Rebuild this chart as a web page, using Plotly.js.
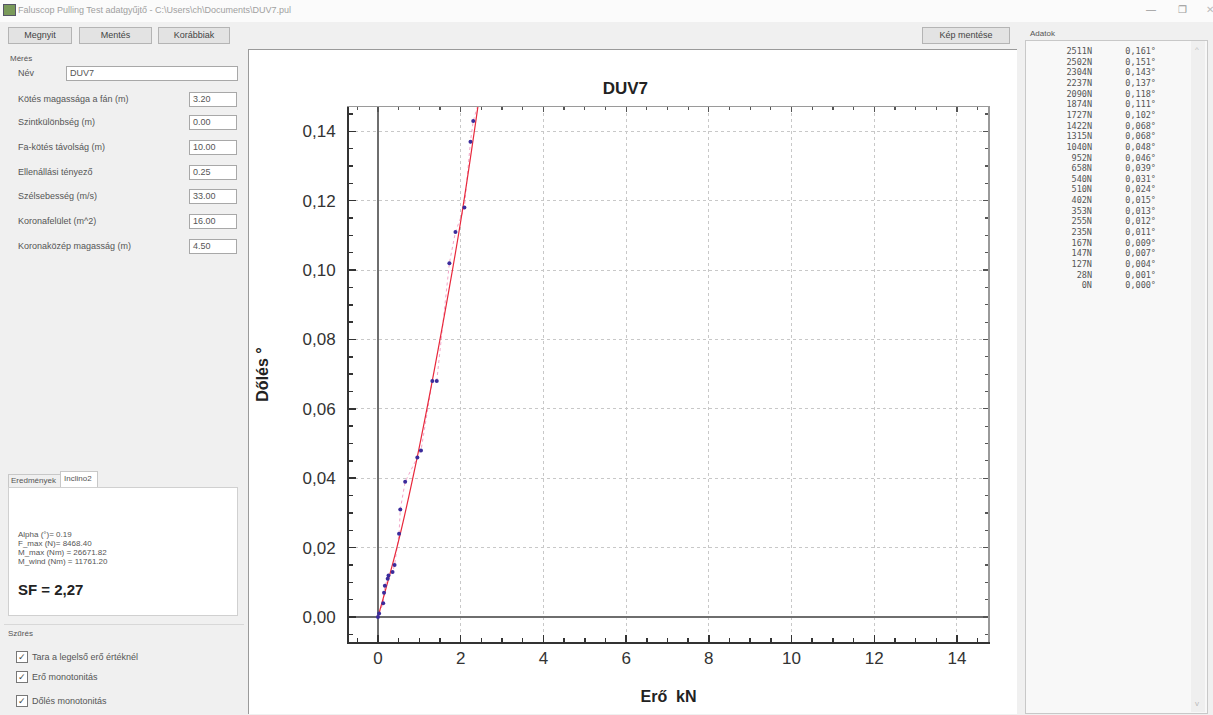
<!DOCTYPE html>
<html>
<head>
<meta charset="utf-8">
<script src="https://cdn.plot.ly/plotly-3.0.1.min.js"></script>
<style>
  html, body { margin:0; padding:0; width:1213px; height:715px; overflow:hidden; background:#f0f0f0; font-family:"Liberation Sans", Arial, sans-serif; }
  .abs { position:absolute; }
  .txt { position:absolute; font-size:9px; color:#555; white-space:nowrap; line-height:1; }
  .btn { position:absolute; background:#e3e3e3; border:1px solid #b4b4b4; font-size:9px; color:#444; text-align:center; line-height:15px; height:15px; }
  .inp { position:absolute; background:#fff; border:1px solid #a8a8a8; font-size:9px; color:#555; line-height:13px; height:13px; padding-left:3px; box-sizing:content-box; }
  .chk { position:absolute; width:10px; height:10px; border:1px solid #777; background:#fff; font-size:9px; line-height:10px; text-align:center; color:#444; }
  #list .row { position:absolute; font-family:"DejaVu Sans Mono", "Liberation Mono", monospace; font-size:8.5px; color:#555; line-height:1; }
</style>
</head>
<body>
<!-- title bar -->
<div class="abs" style="left:0;top:0;width:1213px;height:22px;background:#fbfbfb;"></div>
<div class="abs" style="left:3px;top:4px;width:11px;height:10px;background:#7a9a5a;border:1px solid #556;"></div>
<div class="txt" style="left:18px;top:6px;color:#a0a0a0;font-size:9px;">Faluscop Pulling Test adatgyűjtő - C:\Users\ch\Documents\DUV7.pul</div>
<div class="txt" style="left:1146px;top:5px;color:#999;font-size:10px;">—</div>
<div class="txt" style="left:1178px;top:5px;color:#999;font-size:10px;">❐</div>
<div class="txt" style="left:1206px;top:5px;color:#bbb;font-size:10px;">✕</div>

<!-- top buttons -->
<div class="btn" style="left:8px;top:27px;width:62px;">Megnyit</div>
<div class="btn" style="left:79px;top:27px;width:71px;">Mentés</div>
<div class="btn" style="left:158px;top:27px;width:70px;">Korábbiak</div>
<div class="btn" style="left:922px;top:27px;width:86px;">Kép mentése</div>

<!-- left panel: Mérés -->
<div class="txt" style="left:10px;top:55px;font-size:8px;">Mérés</div>
<div class="txt" style="left:18px;top:69px;">Név</div>
<div class="inp" style="left:66px;top:66px;width:167px;">DUV7</div>
<div id="params"></div>

<!-- tabs -->
<div class="abs" style="left:8px;top:474px;width:51px;height:12px;border:1px solid #c8c8c8;border-bottom:none;background:#f0f0f0;"></div>
<div class="txt" style="left:11px;top:477px;font-size:8px;">Eredmények</div>
<div class="abs" style="left:60px;top:471px;width:36px;height:16px;border:1px solid #c8c8c8;border-bottom:none;background:#fff;"></div>
<div class="txt" style="left:64px;top:475px;font-size:8px;">Inclino2</div>
<div class="abs" style="left:8px;top:487px;width:228px;height:127px;background:#fff;border:1px solid #d0d0d0;"></div>
<div class="txt" style="left:18px;top:530px;font-size:8px;line-height:9px;white-space:pre;">Alpha (°)= 0.19
F_max (N)= 8468.40
M_max (Nm) = 26671.82
M_wind (Nm) = 11761.20</div>
<div class="txt" style="left:18px;top:582px;font-size:15px;font-weight:bold;color:#222;">SF = 2,27</div>

<!-- Szűrés -->
<div class="abs" style="left:4px;top:624px;width:240px;height:1px;background:#d8d8d8;"></div>
<div class="txt" style="left:8px;top:630px;font-size:8px;">Szűrés</div>
<div class="chk" style="left:16px;top:651px;">✓</div>
<div class="txt" style="left:32px;top:653px;">Tara a legelső erő értéknél</div>
<div class="chk" style="left:16px;top:671px;">✓</div>
<div class="txt" style="left:32px;top:673px;">Erő monotonitás</div>
<div class="chk" style="left:16px;top:695px;">✓</div>
<div class="txt" style="left:32px;top:697px;">Dőlés monotonitás</div>

<!-- right panel -->
<div class="txt" style="left:1030px;top:30px;font-size:8px;">Adatok</div>
<div class="abs" style="left:1025px;top:40px;width:181px;height:672px;background:#f8f8f8;border:1px solid #c8c8c8;"></div>
<div class="abs" style="left:1191px;top:41px;width:14px;height:671px;background:#efefef;"></div>
<div class="txt" style="left:1195px;top:46px;color:#bbb;font-size:8px;">^</div>
<div class="txt" style="left:1195px;top:700px;color:#bbb;font-size:8px;">v</div>
<div id="list"></div>

<!-- chart panel -->
<div class="abs" style="left:248px;top:49px;width:768px;height:664px;background:#fff;border-left:1px solid #9a9a9a;border-top:1px solid #9a9a9a;"></div>
<div id="chart" class="abs" style="left:250px;top:50px;width:766px;height:663px;"></div>

<script>
// ---- data ----
var paramLabels = ["Kötés magassága a fán (m)", "Szintkülönbség (m)", "Fa-kötés távolság (m)", "Ellenállási tényező", "Szélsebesség (m/s)", "Koronafelület (m^2)", "Koronaközép magasság (m)"];
var paramValues = ["3.20", "0.00", "10.00", "0.25", "33.00", "16.00", "4.50"];

var forceN  = [2511, 2502, 2304, 2237, 2090, 1874, 1727, 1422, 1315, 1040, 952, 658, 540, 510, 402, 353, 255, 235, 167, 147, 127, 28, 0];
var tiltDeg = [0.161, 0.151, 0.143, 0.137, 0.118, 0.111, 0.102, 0.068, 0.068, 0.048, 0.046, 0.039, 0.031, 0.024, 0.015, 0.013, 0.012, 0.011, 0.009, 0.007, 0.004, 0.001, 0.000];

// fitted curve (red)
var fitKN  = [0, 0.5, 1.0, 1.5, 2.0, 2.5];
var fitDeg = [0, 0.022, 0.049, 0.080, 0.114, 0.154];

var xTickVals = [0, 2, 4, 6, 8, 10, 12, 14];
var yTickVals = [0.00, 0.02, 0.04, 0.06, 0.08, 0.10, 0.12, 0.14];

// ---- left parameter rows ----
var rowsTop = [92, 115, 140, 165, 189, 214, 239];
var ph = "";
for (var i = 0; i < paramLabels.length; i++) {
  ph += '<div class="txt" style="left:18px;top:' + (rowsTop[i] + 3) + 'px;">' + paramLabels[i] + '</div>';
  ph += '<div class="inp" style="left:189px;top:' + rowsTop[i] + 'px;width:43px;">' + paramValues[i] + '</div>';
}
document.getElementById("params").innerHTML = ph;

// ---- right data list ----
var lh = "";
for (var j = 0; j < forceN.length; j++) {
  var y = 47 + j * 10.65;
  lh += '<div class="row" style="left:1040px;width:52px;text-align:right;top:' + y + 'px;">' + forceN[j] + 'N</div>';
  lh += '<div class="row" style="left:1100px;width:56px;text-align:right;top:' + y + 'px;">' + tiltDeg[j].toFixed(3).replace(".", ",") + '°</div>';
}
document.getElementById("list").innerHTML = lh;

// ---- chart ----
var xKN = forceN.map(function (v) { return v / 1000; });

var traces = [
  { x: xKN, y: tiltDeg, type: "scatter", mode: "lines",
    line: { color: "#f2a6c8", width: 1, dash: "dot" }, hoverinfo: "skip", showlegend: false },
  { x: fitKN, y: fitDeg, type: "scatter", mode: "lines",
    line: { color: "#e8283c", width: 1.2, shape: "spline" }, showlegend: false },
  { x: xKN, y: tiltDeg, type: "scatter", mode: "markers",
    marker: { color: "#3b2c9c", size: 4 }, showlegend: false },
  { x: [null], y: [null], xaxis: "x2", yaxis: "y2", type: "scatter", mode: "markers", showlegend: false, hoverinfo: "skip" }
];

var xr = [-0.7, 14.75], yr = [-0.0072, 0.147];
var tickFont = { family: "Liberation Sans, Arial, sans-serif", size: 17, color: "#333" };

var layout = {
  width: 766, height: 663,
  paper_bgcolor: "#ffffff", plot_bgcolor: "#ffffff",
  separators: ",.",
  margin: { l: 99, r: 28, t: 57, b: 71 },
  title: { text: "<b>DUV7</b>", x: 0.49, xref: "container", y: 0.943, yref: "container",
           xanchor: "center", yanchor: "middle",
           font: { family: "Liberation Sans, Arial, sans-serif", size: 17, color: "#222" } },
  xaxis: {
    range: xr, tickvals: xTickVals, ticktext: xTickVals.map(String),
    tickfont: tickFont, ticks: "inside", ticklen: 7, tickwidth: 1.5, tickcolor: "#333",
    minor: { dtick: 0.5, tick0: 0, ticks: "inside", ticklen: 4, tickcolor: "#333", tickwidth: 1.5 },
    showline: true, linecolor: "#333", linewidth: 2,
    showgrid: true, gridcolor: "#c8c8c8", griddash: "dot", gridwidth: 1,
    zeroline: true, zerolinecolor: "#6e6e6e", zerolinewidth: 1.5,
    title: { text: "<b>Erő\u00a0 kN</b>", standoff: 23,
             font: { family: "Liberation Sans, Arial, sans-serif", size: 16, color: "#222" } },
    fixedrange: true
  },
  yaxis: {
    range: yr, tickvals: yTickVals, tickformat: ".2f", ticklabelstandoff: 8,
    tickfont: tickFont, ticks: "inside", ticklen: 7, tickwidth: 1.5, tickcolor: "#333",
    minor: { dtick: 0.005, tick0: 0, ticks: "inside", ticklen: 4, tickcolor: "#333", tickwidth: 1.5 },
    showline: true, linecolor: "#333", linewidth: 2,
    showgrid: true, gridcolor: "#c8c8c8", griddash: "dot", gridwidth: 1,
    zeroline: true, zerolinecolor: "#6e6e6e", zerolinewidth: 1.5,
    title: { text: "<b>Dőlés °</b>", standoff: 30,
             font: { family: "Liberation Sans, Arial, sans-serif", size: 16, color: "#222" } },
    fixedrange: true
  },
  xaxis2: {
    overlaying: "x", side: "top", anchor: "y", range: xr, tickvals: xTickVals,
    showticklabels: false, ticks: "inside", ticklen: 5, tickcolor: "#555", tickwidth: 1.2,
    minor: { dtick: 0.5, tick0: 0, ticks: "inside", ticklen: 3, tickcolor: "#555", tickwidth: 1.2 },
    showline: true, linecolor: "#9a9a9a", linewidth: 1.5, showgrid: false, zeroline: false, fixedrange: true
  },
  yaxis2: {
    overlaying: "y", side: "right", anchor: "x", range: yr, tickvals: yTickVals,
    showticklabels: false, ticks: "inside", ticklen: 5, tickcolor: "#555", tickwidth: 1.2,
    minor: { dtick: 0.005, tick0: 0, ticks: "inside", ticklen: 3, tickcolor: "#555", tickwidth: 1.2 },
    showline: true, linecolor: "#9a9a9a", linewidth: 1.5, showgrid: false, zeroline: false, fixedrange: true
  },
  showlegend: false
};

Plotly.newPlot("chart", traces, layout, { displayModeBar: false, staticPlot: true });
</script>
</body>
</html>
